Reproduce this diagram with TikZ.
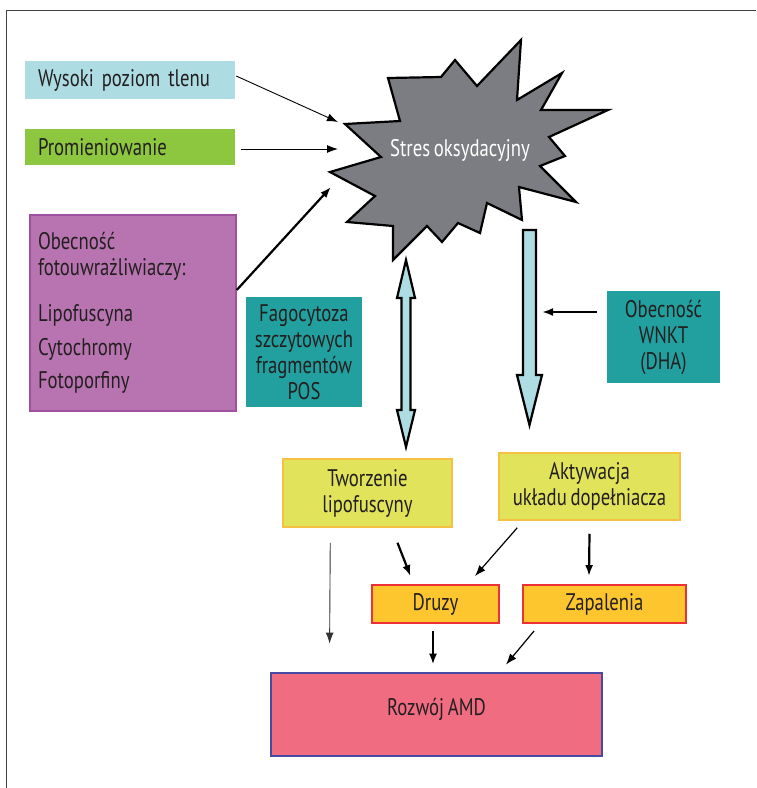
\documentclass[tikz,border=0pt]{standalone}
\usepackage{fontspec}
\setmainfont{PT Sans}[FakeStretch=0.78,WordSpace=0.75]
\usetikzlibrary{arrows.meta,calc}
\definecolor{cyanl}{HTML}{ADDDE2}
\definecolor{greenb}{HTML}{8DC63F}
\definecolor{purpf}{HTML}{B874B0}
\definecolor{purpd}{HTML}{A050A0}
\definecolor{tealb}{HTML}{22A09F}
\definecolor{yelf}{HTML}{E1E35B}
\definecolor{yeld}{HTML}{F6C143}
\definecolor{oraf}{HTML}{FDC62F}
\definecolor{redd}{HTML}{EE3134}
\definecolor{pinkf}{HTML}{F06C80}
\definecolor{blued}{HTML}{464AA2}
\definecolor{starg}{HTML}{7C7D82}
\definecolor{txt}{HTML}{231F20}
\begin{document}
\begin{tikzpicture}[x=1pt,y=-1pt,
  every node/.style={text=txt,font=\fontsize{24}{26}\selectfont},
  lbox/.style={inner ysep=0pt,inner xsep=13pt,text width=#1,align=left},
  cbox/.style={inner sep=0pt,align=center},
  thin arr/.style={-{Latex[length=11pt,width=8pt]},line width=0.9pt},
  thick arr/.style={-{Latex[length=11pt,width=8pt]},line width=2.2pt},
  blockarr/.style={fill=cyanl,draw=black,line width=2.2pt,line join=miter}]
\useasboundingbox (0,0) rectangle (756,788);
\draw[line width=1pt,black!75] (6,788) -- (6,10) -- (756,10);

% star
\draw[fill=starg,line width=2.2pt,line join=miter,miter limit=20]
 (345,124) -- (400,121) -- (388,78) -- (441,77) -- (455,60) -- (477,86) --
 (521,40) -- (517,100) -- (562,73) -- (541,110) -- (608,110) -- (549,137) --
 (565,156) -- (540,166) -- (576,202) -- (519,187) -- (522,220) -- (487,203) --
 (480,233) -- (458,223) -- (442,242) -- (427,226) -- (393,260) -- (393,226) --
 (347,222) -- (375,196) -- (330,172) -- (381,157) -- cycle;
\node[text=white] (stres) at (460,150) {Stres oksydacyjny};

% left boxes
\node[lbox=184pt,fill=cyanl,minimum height=38pt] (wys) at (130,80) {Wysoki poziom tlenu};
\node[lbox=184pt,fill=greenb,minimum height=36pt] (prom) at (130,147) {Promieniowanie};
\node[lbox=190pt,inner xsep=8pt,fill=purpf,draw=purpd,line width=1.5pt,minimum height=196pt] (obec) at (133,313)
 {Obecność\\fotouwrażliwiaczy:\\[20pt]Lipofuscyna\\[8pt]Cytochromy\\[7pt]Fotoporfiny};
\node[cbox,fill=tealb,minimum width=116pt,minimum height=110pt] (fago) at (304,352)
 {Fagocytoza\\szczytowych\\fragmentów\\POS};
\node[cbox,fill=tealb,minimum width=113pt,minimum height=92pt] (wnkt) at (663.5,337)
 {Obecność\\WNKT\\(DHA)};

% lower boxes
\node[cbox,fill=yelf,draw=yeld,line width=1.5pt,minimum width=169pt,minimum height=68pt] (tworz) at (367.5,493)
 {Tworzenie\\lipofuscyny};
\node[cbox,fill=yelf,draw=yeld,line width=1.5pt,minimum width=181pt,minimum height=67pt] (aktyw) at (589.5,486.5)
 {Aktywacja\\układu dopełniacza};
\node[cbox,fill=oraf,draw=redd,line width=1.8pt,minimum width=127pt,minimum height=38pt] (druzy) at (435.5,604) {Druzy};
\node[cbox,fill=oraf,draw=redd,line width=1.8pt,minimum width=163pt,minimum height=38pt] (zapal) at (604.5,604) {Zapalenia};
\node[cbox,fill=pinkf,draw=blued,line width=2.8pt,minimum width=331pt,minimum height=83pt] (amd) at (436.5,714.5)
 {\raisebox{16pt}{Rozwój AMD}};

% arrows into the star
\coordinate (s1) at (338,122);
\coordinate (s2) at (338,149);
\coordinate (s3) at (331,187);
\draw[thin arr] ($(wys.east)+(1,-4)$) -- (s1);
\draw[thin arr] ($(prom.east)+(6,2)$) -- (s2);
\draw[thick arr] ($(obec.east)+(0,-23)$) -- (s3);

% block arrows
\draw[blockarr] (406,260) -- (415,298) -- (410.5,298) -- (410.5,410) -- (415,410) -- (406,447) --
 (397,410) -- (401.5,410) -- (401.5,298) -- (397,298) -- cycle;
\draw[blockarr] (523,230) -- (536,230) -- (536,375) -- (542,375) -- (529.5,425) -- (517,375) -- (523,375) -- cycle;
\coordinate (sh) at (542,312);
\draw[thick arr,line width=2.6pt] ($(wnkt.west)+(-10,-25)$) -- (sh);

% lower arrows
\draw[thick arr] ($(tworz.south)+(30,15)$) -- ($(druzy.north)+(-25,-8)$);
\draw[thin arr,line width=1.2pt] ($(aktyw.south west)+(19,7)$) -- ($(druzy.north)+(39.5,-8)$);
\draw[thick arr] ($(aktyw.south)+(0,13)$) -- ($(zapal.north)+(-15.5,-8)$);
\draw[thin arr,black!80] ($(tworz.south west)+(48,15)$) -- ($(amd.north west)+(60,-28)$);
\draw[thick arr] ($(druzy.south)+(-2.5,7)$) -- ($(amd.north)+(-3.5,-7)$);
\draw[thin arr,line width=1.2pt] ($(zapal.south west)+(12,7)$) -- ($(amd.north)+(69.5,-7)$);
\end{tikzpicture}
\end{document}
